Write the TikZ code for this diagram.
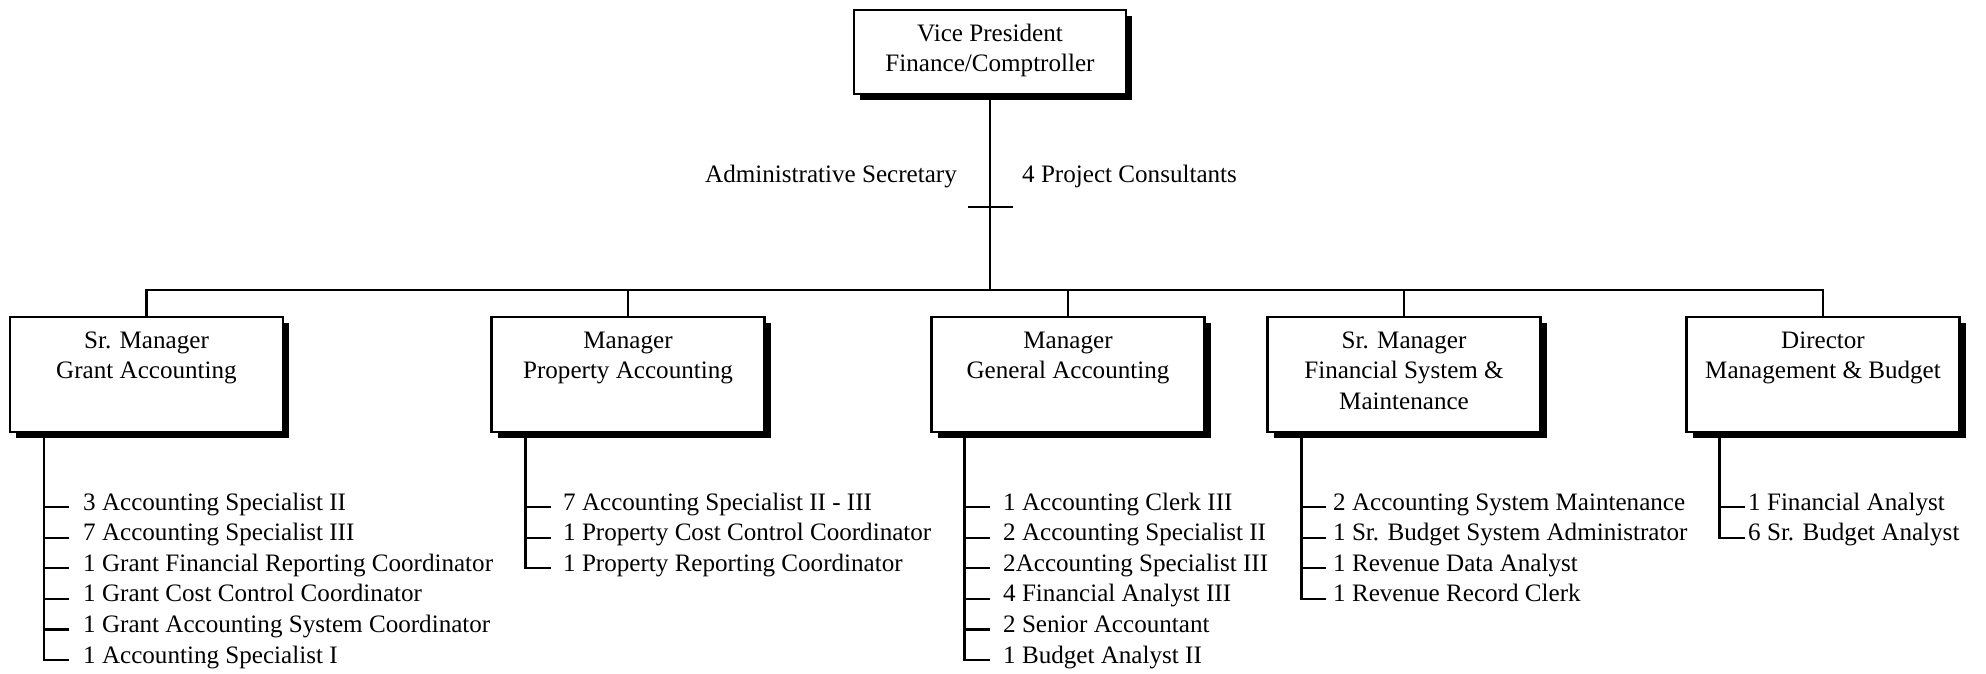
\documentclass[tikz,border=0pt]{standalone}
\usepackage{fontspec}
\setmainfont{Liberation Serif}
\usetikzlibrary{shadows}
\newcommand\cstack[1]{\vtop{\halign{\hfil##\hfil\cr#1\crcr}}}
\begin{document}
\begin{tikzpicture}[x=1pt,y=-1pt,
  every node/.style={font=\fontsize{25.1}{30.6}\selectfont},
  box/.style={draw, line width=2.2pt, fill=white, anchor=north,
    minimum width=273pt, minimum height=115pt, inner sep=0pt, outer sep=0pt,
    drop shadow={shadow xshift=6pt,shadow yshift=-6pt,fill=black,opacity=1}},
  ttl/.style={anchor=base, inner sep=0pt},
  item/.style={anchor=base west, inner sep=0pt},
  conn/.style={line width=2.2pt},
]
\fill[white] (0,0) rectangle (1986,673);
\useasboundingbox (0,0) rectangle (1986,673);

% top box
\node[box, minimum width=272pt, minimum height=84pt] (vp) at (990,10) {};
\node[ttl] (vpt) at ([yshift=-31pt]vp.north) {\cstack{Vice President\cr Finance/Comptroller}};

\coordinate (bus) at (990,290);
\draw[conn] (vp.south) -- (bus);
\coordinate (cl) at (968,207);
\coordinate (cr) at (1013,207);
\draw[conn] (cl) -- (cr);
\node[anchor=base east, inner sep=0pt] (adm) at (957,182) {Administrative Secretary};
\node[anchor=base west, inner sep=0pt] (prj) at (1022,182) {4 Project Consultants};

% second level boxes
\node[box] (b1) at (146.5,317) {};
\node[box] (b2) at (628,317) {};
\node[box] (b3) at (1068,317) {};
\node[box] (b4) at (1404,317) {};
\node[box] (b5) at (1823,317) {};
\node[ttl] (b1t) at ([yshift=-31pt]b1.north) {\cstack{Sr. Manager\cr Grant Accounting}};
\node[ttl] (b2t) at ([yshift=-31pt]b2.north) {\cstack{Manager\cr Property Accounting}};
\node[ttl] (b3t) at ([yshift=-31pt]b3.north) {\cstack{Manager\cr General Accounting}};
\node[ttl] (b4t) at ([yshift=-31pt]b4.north) {\cstack{Sr. Manager\cr Financial System \&\cr Maintenance}};
\node[ttl] (b5t) at ([yshift=-31pt]b5.north) {\cstack{Director\cr Management \& Budget}};

\draw[conn] (b1.north) -- (b1.north |- bus) -- (b5.north |- bus) -- (b5.north);
\draw[conn] (b2.north) -- (b2.north |- bus);
\draw[conn] (b3.north) -- (b3.north |- bus);
\draw[conn] (b4.north) -- (b4.north |- bus);

% list 1
\coordinate (v1) at ([xshift=34pt]b1.south west);
\foreach \t [count=\k from 0] in {3 Accounting Specialist II, 7 Accounting Specialist III,
  1 Grant Financial Reporting Coordinator, 1 Grant Cost Control Coordinator,
  1 Grant Accounting System Coordinator, 1 Accounting Specialist I} {
  \node[item] (g\k) at (83,{510+30.6*\k}) {\t};
  \path (g\k.base west) ++(0,-3) coordinate (ga\k);
  \draw[conn] (v1 |- ga\k) -- ++(25,0);
}
\draw[conn] (v1) |- ([xshift=25pt]v1 |- ga5);

% list 2
\coordinate (v2) at ([xshift=34pt]b2.south west);
\foreach \t [count=\k from 0] in {7 Accounting Specialist II - III,
  1 Property Cost Control Coordinator, 1 Property Reporting Coordinator} {
  \node[item] (p\k) at (563,{510+30.6*\k}) {\t};
  \path (p\k.base west) ++(0,-3) coordinate (pa\k);
  \draw[conn] (v2 |- pa\k) -- ++(25,0);
}
\draw[conn] (v2) |- ([xshift=25pt]v2 |- pa2);

% list 3
\coordinate (v3) at ([xshift=33pt]b3.south west);
\foreach \t [count=\k from 0] in {1 Accounting Clerk III, 2 Accounting Specialist II,
  2Accounting Specialist III, 4 Financial Analyst III, 2 Senior Accountant,
  1 Budget Analyst II} {
  \node[item] (m\k) at (1003,{510+30.6*\k}) {\t};
  \path (m\k.base west) ++(0,-3) coordinate (ma\k);
  \draw[conn] (v3 |- ma\k) -- ++(25,0);
}
\draw[conn] (v3) |- ([xshift=25pt]v3 |- ma5);

% list 4
\coordinate (v4) at ([xshift=34pt]b4.south west);
\foreach \t [count=\k from 0] in {2 Accounting System Maintenance,
  1 Sr. Budget System Administrator, 1 Revenue Data Analyst, 1 Revenue Record Clerk} {
  \node[item] (f\k) at (1333,{510+30.6*\k}) {\t};
  \path (f\k.base west) ++(0,-3) coordinate (fa\k);
  \draw[conn] (v4 |- fa\k) -- ++(24,0);
}
\draw[conn] (v4) |- ([xshift=24pt]v4 |- fa3);

% list 5
\coordinate (v5) at ([xshift=33pt]b5.south west);
\foreach \t [count=\k from 0] in {1 Financial Analyst, 6 Sr. Budget Analyst} {
  \node[item] (d\k) at (1748,{510+30.6*\k}) {\t};
  \path (d\k.base west) ++(0,-3) coordinate (da\k);
  \draw[conn] (v5 |- da\k) -- ++(25,0);
}
\draw[conn] (v5) |- ([xshift=25pt]v5 |- da1);
\end{tikzpicture}
\end{document}
